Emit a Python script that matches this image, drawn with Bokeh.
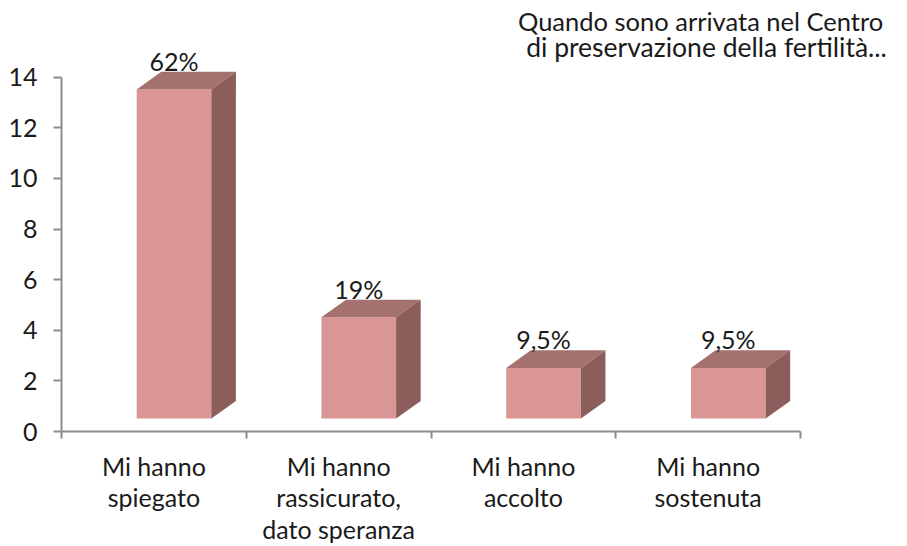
from bokeh.plotting import figure
from bokeh.models import Range1d, FixedTicker, Label, ColumnDataSource
from bokeh.core.properties import value
from bokeh.embed import file_html
from bokeh.resources import INLINE

# ---- data ----
categories = ["Mi hanno\nspiegato", "Mi hanno\nrassicurato,\ndato speranza",
              "Mi hanno\naccolto", "Mi hanno\nsostenuta"]
counts = [13, 4, 2, 2]
pct_labels = ["62%", "19%", "9,5%", "9,5%"]
y_ticks = [0, 2, 4, 6, 8, 10, 12, 14]
title_lines = ["Quando sono arrivata nel Centro", "di preservazione della fertilità..."]

FONT = "Lato"
FRONT = "#D99694"
TOP = "#A4716F"
SIDE = "#8B5E5C"
AXIS = "#8C8C8C"
TXT = "#1A1A1A"

# 3D geometry (category units / value units)
f_left, f_right = 0.407, 0.811
dx, dy = 0.133, 0.70
base = 0.51

p = figure(width=907, height=546, output_backend="svg", toolbar_location=None,
           x_range=Range1d(0, 4.579), y_range=Range1d(0, 17.03),
           min_border_left=61, min_border_right=0, min_border_top=0, min_border_bottom=114)
p.outline_line_color = None
p.grid.visible = False
p.background_fill_color = "white"
p.border_fill_color = "white"

idx = list(range(len(counts)))
L = [i + f_left for i in idx]
R = [i + f_right for i in idx]
B = [base for _ in idx]
T = [base + v for v in counts]

# front faces
p.quad(left=L, right=R, bottom=B, top=T, fill_color=FRONT, line_color=None)
# top faces
top_xs = [[l, r, r + dx, l + dx] for l, r in zip(L, R)]
top_ys = [[t, t, t + dy, t + dy] for t in T]
p.patches(top_xs, top_ys, fill_color=TOP, line_color=None)
# side faces
side_xs = [[r, r + dx, r + dx, r] for r in R]
side_ys = [[b, b + dy, t + dy, t] for b, t in zip(B, T)]
p.patches(side_xs, side_ys, fill_color=SIDE, line_color=None)

# value labels
src = ColumnDataSource(dict(x=[(l + r) / 2 for l, r in zip(L, R)],
                            y=[t + dy for t in T], txt=pct_labels))
p.text(x="x", y="y", text="txt", source=src, text_font=value(FONT),
       text_font_size="25px", text_color=TXT, text_align="center",
       text_baseline="alphabetic", y_offset=-11)

# title lines
p.add_layout(Label(x=3.459, y=15.81, text=title_lines[0], text_font=FONT,
                   text_font_size="25.5px", text_color=TXT, text_align="center",
                   text_baseline="alphabetic", y_offset=10))
p.add_layout(Label(x=3.491, y=14.79, text=title_lines[1], text_font=FONT,
                   text_font_size="26.5px", text_color=TXT, text_align="center",
                   text_baseline="alphabetic", y_offset=10))

# y axis
ya = p.yaxis[0]
ya.ticker = FixedTicker(ticks=y_ticks)
ya.bounds = (0, 14)
ya.axis_line_color = AXIS
ya.axis_line_width = 2
ya.major_tick_line_color = AXIS
ya.major_tick_line_width = 2
ya.major_tick_out = 8
ya.major_tick_in = 0
ya.minor_tick_line_color = None
ya.major_label_standoff = 16
ya.major_label_text_font = FONT
ya.major_label_text_font_size = "25px"
ya.major_label_text_color = TXT

# x axis
xa = p.xaxis[0]
centers = [i + 0.5 for i in idx]
xa.ticker = FixedTicker(ticks=centers, minor_ticks=list(range(len(counts) + 1)))
xa.major_label_overrides = {c: lab for c, lab in zip(centers, categories)}
xa.bounds = (0, 4)
xa.axis_line_color = AXIS
xa.axis_line_width = 2
xa.major_tick_line_color = None
xa.major_tick_out = 0
xa.major_tick_in = 0
xa.minor_tick_line_color = AXIS
xa.minor_tick_line_width = 2
xa.minor_tick_out = 7
xa.minor_tick_in = 0
xa.major_label_standoff = 12
xa.major_label_text_font = FONT
xa.major_label_text_font_size = "25px"
xa.major_label_text_color = TXT
xa.major_label_text_line_height = 1.05

open("out.html", "w").write(file_html(p, INLINE))
